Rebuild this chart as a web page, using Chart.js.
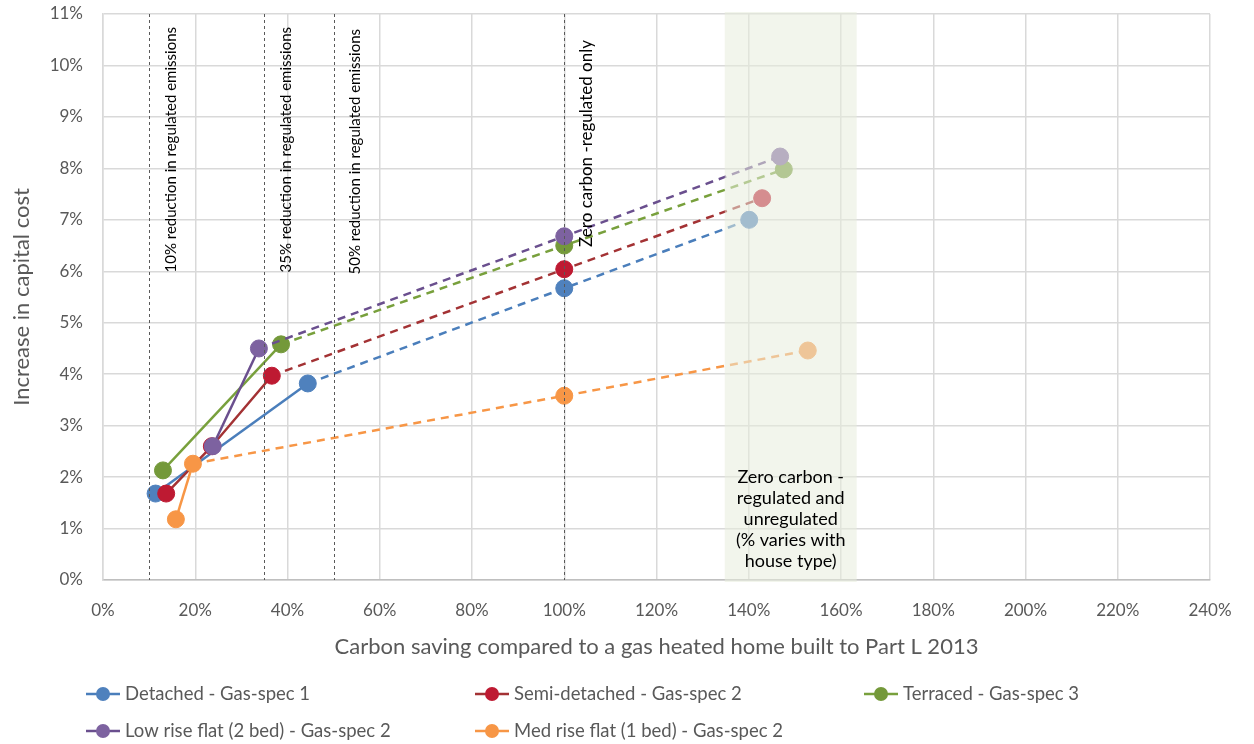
<html><head><meta charset="UTF-8">
<title>Capital cost vs carbon saving</title>
<style>
    body, html {
        margin: 0;
        padding: 0;
        background: #fff;
    }
    #wrap {
        width: 1254px;
        height: 744px;
    }
</style>
<script src="https://cdn.jsdelivr.net/npm/chart.js"></script>
</head>
<body>
<div id="wrap"><canvas id="costChart" width="1254" height="744"></canvas></div>
<script>
    // values (x = carbon saving %, y = capital cost increase %)
    const seriesNames = ['Detached - Gas-spec 1', 'Semi-detached - Gas-spec 2', 'Terraced - Gas-spec 3',
                         'Low rise flat (2 bed) - Gas-spec 2', 'Med rise flat (1 bed) - Gas-spec 2'];
    const detachedX = [11.4, 44.4, 100, 140.1];
    const detachedY = [1.68, 3.82, 5.67, 7.0];
    const semiX = [13.7, 23.6, 36.6, 100, 142.9];
    const semiY = [1.68, 2.6, 3.97, 6.04, 7.42];
    const terracedX = [13.0, 38.6, 100, 147.6];
    const terracedY = [2.13, 4.58, 6.5, 7.98];
    const lowRiseX = [23.8, 33.8, 100, 146.8];
    const lowRiseY = [2.6, 4.5, 6.68, 8.23];
    const medRiseX = [15.8, 19.5, 100, 152.8];
    const medRiseY = [1.18, 2.26, 3.58, 4.46];
    // index of the last point joined by a solid line, dashed after it
    const solidUntil = [1, 2, 1, 1, 1];

    const xTicks = [0, 20, 40, 60, 80, 100, 120, 140, 160, 180, 200, 220, 240];
    const yTicks = [0, 1, 2, 3, 4, 5, 6, 7, 8, 9, 10, 11];

    const markerX = [10, 35, 50, 100];
    const markerLabels = ['10% reduction in regulated emissions', '35% reduction in regulated emissions',
                          '50% reduction in regulated emissions', 'Zero carbon -regulated only'];
    const bandFrom = 134.8, bandTo = 163.4;
    const bandLabel = ['Zero carbon -', 'regulated and', 'unregulated', '(% varies with', 'house type)'];

    const pointColors = ['#4f81bd', '#be1a32', '#74993a', '#7d62a0', '#f79646'];
    const lineColors = ['#4a7ebb', '#a33234', '#78a03c', '#6a4f8e', '#f79646'];

    const FONT = 'Lato, "Open Sans", sans-serif';
    const TEXT = '#595959';
    const markerFont = [15, 15, 15, 17];
    const markerTop = [13, 13, 15, 26];

    const xs = [detachedX, semiX, terracedX, lowRiseX, medRiseX];
    const ys = [detachedY, semiY, terracedY, lowRiseY, medRiseY];

    const datasets = seriesNames.map((name, i) => ({
        label: name,
        data: xs[i].map((x, j) => ({x: x, y: ys[i][j]})),
        borderColor: lineColors[i],
        backgroundColor: pointColors[i],
        pointBackgroundColor: pointColors[i],
        pointBorderColor: pointColors[i],
        pointRadius: 8.5,
        pointBorderWidth: 1,
        borderWidth: 2.5,
        tension: 0,
        order: -i,
        segment: {
            borderDash: ctx => ctx.p0DataIndex >= solidUntil[i] ? [8, 6] : undefined
        }
    }));

    const overlays = {
        id: 'overlays',
        afterDatasetsDraw(chart) {
            const ctx = chart.ctx;
            const xs = chart.scales.x, ys = chart.scales.y;
            const {top, bottom} = chart.chartArea;
            ctx.save();
            // shaded zero carbon band (drawn over the lines so they fade inside it)
            const b0 = xs.getPixelForValue(bandFrom), b1 = xs.getPixelForValue(bandTo);
            ctx.fillStyle = 'rgba(231,237,220,0.55)';
            ctx.fillRect(b0, top - 2, b1 - b0, bottom - top + 4);

            // dotted reference lines
            ctx.strokeStyle = '#595959';
            ctx.lineWidth = 1;
            ctx.setLineDash([3, 3]);
            markerX.forEach(v => {
                const px = Math.round(xs.getPixelForValue(v)) + 0.5;
                ctx.beginPath();
                ctx.moveTo(px, top);
                ctx.lineTo(px, bottom);
                ctx.stroke();
            });
            ctx.setLineDash([]);

            ctx.fillStyle = '#000';
            markerX.forEach((v, k) => {
                ctx.save();
                ctx.font = markerFont[k] + 'px ' + FONT;
                ctx.translate(xs.getPixelForValue(v) + 22, top + markerTop[k]);
                ctx.rotate(-Math.PI / 2);
                ctx.textAlign = 'right';
                ctx.textBaseline = 'middle';
                ctx.fillText(markerLabels[k], 0, 0);
                ctx.restore();
            });

            ctx.textAlign = 'center';
            ctx.textBaseline = 'middle';
            ctx.font = '18px ' + FONT;
            const cx = (b0 + b1) / 2, y0 = ys.getPixelForValue(2.0);
            bandLabel.forEach((t, k) => ctx.fillText(t, cx, y0 + k * 21));
            ctx.restore();
        }
    };

    const gridLegend = {
        id: 'gridLegend',
        afterDraw(chart) {
            const ctx = chart.ctx;
            ctx.save();
            ctx.font = '18.5px ' + FONT;
            ctx.textBaseline = 'middle';
            chart.data.datasets.forEach((ds, i) => {
                const x = 86 + (i % 3) * 389, y = 694 + Math.floor(i / 3) * 37;
                ctx.strokeStyle = lineColors[i];
                ctx.lineWidth = 2.5;
                ctx.beginPath();
                ctx.moveTo(x, y);
                ctx.lineTo(x + 34, y);
                ctx.stroke();
                ctx.fillStyle = pointColors[i];
                ctx.beginPath();
                ctx.arc(x + 17, y, 7, 0, Math.PI * 2);
                ctx.fill();
                ctx.fillStyle = TEXT;
                ctx.fillText(ds.label, x + 39, y);
            });
            ctx.restore();
        }
    };

    new Chart(document.getElementById('costChart'), {
        type: 'line',
        data: {datasets: datasets},
        plugins: [overlays, gridLegend],
        options: {
            responsive: false,
            animation: false,
            layout: {padding: {top: 14, right: 44, bottom: 84, left: 0}},
            plugins: {legend: {display: false}, tooltip: {enabled: false}},
            scales: {
                x: {
                    type: 'linear',
                    min: 0, max: 240,
                    afterBuildTicks: s => { s.ticks = xTicks.map(v => ({value: v})); },
                    afterFit: s => { s.height = 80; },
                    ticks: {
                        callback: v => v + '%',
                        color: TEXT,
                        font: {family: FONT, size: 17},
                        padding: 20,
                        maxRotation: 0
                    },
                    grid: {color: '#d9d9d9', lineWidth: 1.5, drawTicks: false},
                    border: {color: '#bfbfbf', width: 1.5},
                    title: {
                        display: true,
                        text: 'Carbon saving compared to a gas heated home built to Part L 2013',
                        color: TEXT,
                        font: {family: FONT, size: 22},
                        padding: {top: 0, bottom: 0}
                    }
                },
                y: {
                    type: 'linear',
                    min: 0, max: 11,
                    afterBuildTicks: s => { s.ticks = yTicks.map(v => ({value: v})); },
                    afterFit: s => { s.width = 103; s.paddingTop = 0; s.paddingBottom = 0; },
                    ticks: {
                        callback: v => v + '%',
                        color: TEXT,
                        font: {family: FONT, size: 17},
                        padding: 20
                    },
                    grid: {color: '#d9d9d9', lineWidth: 1.5, drawTicks: false},
                    border: {color: '#d9d9d9', width: 1.5},
                    title: {
                        display: true,
                        text: 'Increase in capital cost',
                        color: TEXT,
                        font: {family: FONT, size: 22},
                        padding: {top: 9, bottom: 0}
                    }
                }
            }
        }
    });
</script>
</body>
</html>
